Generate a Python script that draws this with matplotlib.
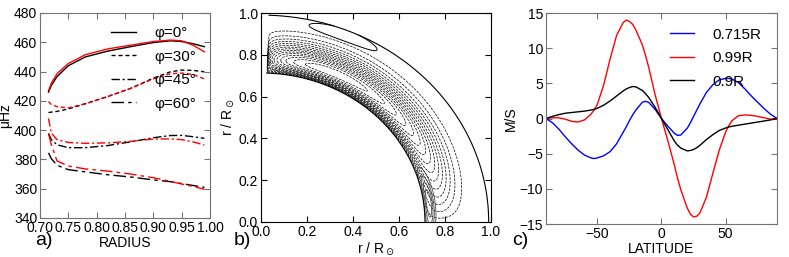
import numpy as np
import matplotlib
matplotlib.use('Agg')
import matplotlib.pyplot as plt

plt.rcParams['font.family'] = ['Liberation Sans', 'DejaVu Sans']
plt.rcParams['xtick.direction'] = 'in'
plt.rcParams['ytick.direction'] = 'in'
plt.rcParams['xtick.top'] = True
plt.rcParams['ytick.right'] = True
plt.rcParams['xtick.major.size'] = 4
plt.rcParams['ytick.major.size'] = 4
plt.rcParams['xtick.major.pad'] = 2
plt.rcParams['ytick.major.pad'] = 2
plt.rcParams['font.size'] = 10

# ---- panel a: frequency vs radius (black and red model) ----
r_a = [0.715, 0.72, 0.73, 0.75, 0.78, 0.82, 0.86, 0.90, 0.93, 0.95, 0.97, 0.99]
phi0_k = [426, 430.5, 436.5, 444, 450, 454, 457, 459.8, 461, 460.5, 459, 457]
phi0_r = [427, 432, 438.5, 445.5, 451.5, 455.5, 458, 460.5, 461.5, 461, 458, 453.5]
phi30_k = [412, 412.3, 412.8, 414.5, 418, 423, 428.5, 435.5, 439.8, 441, 440.8, 439.8]
phi30_r = [419.5, 417.5, 416, 415.2, 418, 423, 428.5, 435, 438.5, 439, 438, 435]
phi45_k = [397.8, 393.5, 390, 388, 388, 389.5, 392, 394.8, 396.3, 396.4, 395.5, 394.4]
phi45_r = [408, 398, 393.5, 391.6, 391, 391.3, 392.3, 393.9, 394, 393.5, 392, 389.8]
phi60_k = [384.5, 380.5, 376, 373, 371.5, 369.5, 368, 366, 364.8, 363.5, 362.2, 360.9]
phi60_r = [397.5, 390, 379, 375.5, 373.5, 372, 370, 367.5, 365, 363.2, 361.5, 359.6]
legend_a = ['φ=0°', 'φ=30°', 'φ=45°', 'φ=60°']

# ---- panel c: velocity vs latitude ----
lat = [-90, -85, -80, -75, -70, -65, -60, -55, -52.5, -50, -45, -40, -35, -30,
       -27.5, -25, -22.5, -20, -15, -12.5, -10, -5, 0, 5, 10, 12.5, 15, 20,
       22.5, 25, 27.5, 30, 35, 40, 45, 50, 52.5, 55, 60, 65, 70, 75, 80, 85, 90]
v_0715 = [0, -0.6, -1.5, -2.6, -3.6, -4.5, -5.2, -5.6, -5.7, -5.6, -5.3, -4.7,
          -3.6, -2.0, -1.2, -0.3, 0.5, 1.2, 2.3, 2.45, 2.3, 1.3, 0, -1.1, -2.1,
          -2.4, -2.35, -1.4, -0.6, 0.3, 1.2, 2.1, 3.7, 4.8, 5.5, 5.7, 5.7, 5.6,
          5.1, 4.2, 3.2, 2.3, 1.4, 0.6, 0]
v_099 = [0, 0.1, 0.1, -0.1, -0.4, -0.5, -0.2, 0.6, 1.2, 2.0, 4.8, 8.5, 11.8,
         13.6, 14.0, 13.8, 13.4, 12.6, 10.5, 9.0, 7.3, 3.4, 0, -3.2, -6.6, -8.5,
         -10.1, -12.7, -13.6, -14.0, -13.9, -13.4, -11.2, -7.8, -4.5, -1.9, -1.0,
         -0.3, 0.4, 0.5, 0.45, 0.3, 0.1, -0.1, 0]
v_09 = [0, 0.3, 0.55, 0.75, 0.85, 0.95, 1.05, 1.2, 1.3, 1.45, 1.9, 2.5, 3.2,
        3.9, 4.2, 4.4, 4.55, 4.5, 4.0, 3.55, 3.0, 1.6, 0, -1.6, -3.2, -3.8, -4.2,
        -4.6, -4.55, -4.4, -4.15, -3.8, -3.0, -2.3, -1.7, -1.35, -1.2, -1.1,
        -0.95, -0.8, -0.65, -0.5, -0.35, -0.2, 0]
legend_c = ['0.715R', '0.99R', '0.9R']

# ---- panel b: meridional flow cells (shape parameters) ----
r_in, r_out = 0.713, 0.99
colat_min = 2.0
main_width = 0.38                       # radial decay of the big (dashed) cell
top_cell = (0.965, 0.032, 22.0, 11.4)   # r0, wr, colat0, wth
eq_cell = (0.735, 0.022, 83.0, 11.0)

fig = plt.figure(figsize=(7.89, 2.57), dpi=100)
ax1 = fig.add_axes([0.0507, 0.1518, 0.2155, 0.7977])
ax2 = fig.add_axes([0.3308, 0.1362, 0.2915, 0.8132])
ax3 = fig.add_axes([0.692, 0.1284, 0.2928, 0.821])

styles = ['-', (0, (3, 2)), (0, (6, 2, 1.5, 2)), (0, (9, 3, 2.5, 3))]
black = [phi0_k, phi30_k, phi45_k, phi60_k]
red = [phi0_r, phi30_r, phi45_r, phi60_r]
for ls, k, rr, lab in zip(styles, black, red, legend_a):
    ax1.plot(r_a, k, color='k', ls=ls, lw=1.0, label=lab)
    ax1.plot(r_a, rr, color='r', ls=ls, lw=1.0)
ax1.set_xlim(0.70, 1.00)
ax1.set_ylim(340, 480)
ax1.set_xticks(np.arange(0.70, 1.001, 0.05))
ax1.set_yticks(np.arange(340, 481, 20))
ax1.set_xlabel('RADIUS', labelpad=1)
ax1.set_ylabel('μHz', labelpad=1)
ax1.legend(loc='upper left', bbox_to_anchor=(0.42, 0.935), frameon=False,
           fontsize=11, handlelength=1.6, handletextpad=1.2, labelspacing=0.62,
           borderpad=0, borderaxespad=0)

# panel b
rr = np.linspace(r_in, r_out, 240)
th = np.linspace(colat_min, 90, 320)
R, TH = np.meshgrid(rr, th)
X = R * np.sin(np.radians(TH))
Y = R * np.cos(np.radians(TH))
s = (R - r_in) / (r_out - r_in)
u = np.clip((TH - colat_min) / (90.5 - colat_min), 0, 1)
psi = -(s ** 0.8) * np.exp(-(s / main_width) ** 2) * u ** 0.3 * (1 - u) ** 0.9
lv = np.linspace(psi.min() * 0.95, psi.min() * 0.06, 15)
ax2.contour(X, Y, psi, levels=lv, colors='k', linestyles='dashed', linewidths=0.5)
r0, wr, t0, wt = top_cell
p_top = np.exp(-((R - r0) / wr) ** 2 - ((TH - t0) / wt) ** 2)
ax2.contour(X, Y, p_top, levels=[0.5], colors='k', linewidths=0.7)
r0, wr, t0, wt = eq_cell
p_eq = np.exp(-((R - r0) / wr) ** 2 - ((TH - t0) / wt) ** 2)
ax2.contour(X, Y, p_eq, levels=[0.2, 0.4, 0.6, 0.8], colors='0.3',
            linewidths=0.6)
arc = np.radians(np.linspace(colat_min, 90, 200))
ax2.plot(r_out * np.sin(arc), r_out * np.cos(arc), 'k', lw=0.8)
ax2.plot(r_in * np.sin(arc), r_in * np.cos(arc), 'k', lw=0.8)
ax2.set_xlim(0, 1)
ax2.set_ylim(0, 1)
ax2.set_xticks(np.arange(0, 1.01, 0.2))
ax2.set_yticks(np.arange(0, 1.01, 0.2))
ax2.set_xlabel(r'r / R$_\odot$', labelpad=1)
ax2.set_ylabel(r'r / R$_\odot$', labelpad=2)

# panel c
ax3.plot(lat, v_0715, color='b', lw=1.0, label=legend_c[0])
ax3.plot(lat, v_099, color='r', lw=1.0, label=legend_c[1])
ax3.plot(lat, v_09, color='k', lw=1.0, label=legend_c[2])
ax3.set_xlim(-90, 90)
ax3.set_ylim(-15, 15)
ax3.set_xticks([-50, 0, 50])
ax3.set_yticks(np.arange(-15, 16, 5))
ax3.set_xlabel('LATITUDE', labelpad=1)
ax3.set_ylabel('M/S', labelpad=1)
ax3.legend(loc='upper left', bbox_to_anchor=(0.537, 0.93), frameon=False,
           fontsize=11, handlelength=1.6, handletextpad=1.2, labelspacing=0.62,
           borderpad=0, borderaxespad=0)

for ax in (ax1, ax3):
    for sp in ax.spines.values():
        sp.set_color('0.45')
    ax.tick_params(color='0.45')

fig.text(0.055, 0.066, 'a)', fontsize=14, ha='center', va='center')
fig.text(0.307, 0.066, 'b)', fontsize=14, ha='center', va='center')
fig.text(0.659, 0.066, 'c)', fontsize=14, ha='center', va='center')

fig.savefig('out.png', dpi=100)
